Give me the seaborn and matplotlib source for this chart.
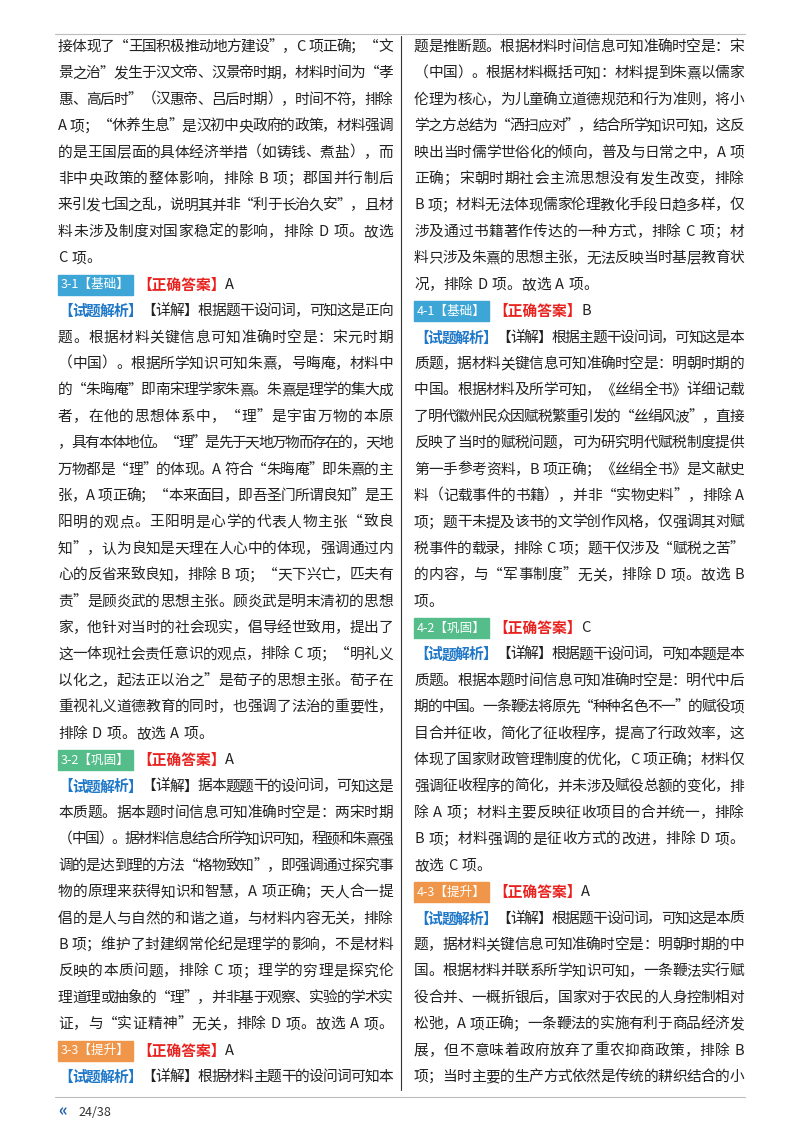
import matplotlib
matplotlib.use('Agg')
import matplotlib.pyplot as plt
import seaborn as sns
from matplotlib.patches import Rectangle

sns.set_theme(style='white')
plt.rcParams['font.family'] = ['Noto Sans CJK SC', 'DejaVu Sans']

W, H = 800, 1132
FS = 10.6

# 每列文字（以 "#" 开头的是题号行：题号|等级|答案；以 "@" 开头的是解析首行）
left_lines = [
    "接体现了“王国积极推动地方建设”，C 项正确；“文",
    "景之治”发生于汉文帝、汉景帝时期，材料时间为“孝",
    "惠、高后时”（汉惠帝、吕后时期），时间不符，排除",
    "A 项；“休养生息”是汉初中央政府的政策，材料强调",
    "的是王国层面的具体经济举措（如铸钱、煮盐），而",
    "非中央政策的整体影响，排除 B 项；郡国并行制后",
    "来引发七国之乱，说明其并非“利于长治久安”，且材",
    "料未涉及制度对国家稳定的影响，排除 D 项。故选",
    "C 项。",
    "#3-1|基础|A",
    "@【详解】根据题干设问词，可知这是正向",
    "题。根据材料关键信息可知准确时空是：宋元时期",
    "（中国）。根据所学知识可知朱熹，号晦庵，材料中",
    "的“朱晦庵”即南宋理学家朱熹。朱熹是理学的集大成",
    "者，在他的思想体系中，“理”是宇宙万物的本原",
    "，具有本体地位。“理”是先于天地万物而存在的，天地",
    "万物都是“理”的体现。A 符合“朱晦庵”即朱熹的主",
    "张，A 项正确；“本来面目，即吾圣门所谓良知”是王",
    "阳明的观点。王阳明是心学的代表人物主张“致良",
    "知”，认为良知是天理在人心中的体现，强调通过内",
    "心的反省来致良知，排除 B 项；“天下兴亡，匹夫有",
    "责”是顾炎武的思想主张。顾炎武是明末清初的思想",
    "家，他针对当时的社会现实，倡导经世致用，提出了",
    "这一体现社会责任意识的观点，排除 C 项；“明礼义",
    "以化之，起法正以治之”是荀子的思想主张。荀子在",
    "重视礼义道德教育的同时，也强调了法治的重要性，",
    "排除 D 项。故选 A 项。",
    "#3-2|巩固|A",
    "@【详解】据本题题干的设问词，可知这是",
    "本质题。据本题时间信息可知准确时空是：两宋时期",
    "（中国）。据材料信息结合所学知识可知，程颐和朱熹强",
    "调的是达到理的方法“格物致知”，即强调通过探究事",
    "物的原理来获得知识和智慧，A 项正确；天人合一提",
    "倡的是人与自然的和谐之道，与材料内容无关，排除",
    "B 项；维护了封建纲常伦纪是理学的影响，不是材料",
    "反映的本质问题，排除 C 项；理学的穷理是探究伦",
    "理道理或抽象的“理”，并非基于观察、实验的学术实",
    "证，与“实证精神”无关，排除 D 项。故选 A 项。",
    "#3-3|提升|A",
    "@【详解】根据材料主题干的设问词可知本",
]

right_lines = [
    "题是推断题。根据材料时间信息可知准确时空是：宋",
    "（中国）。根据材料概括可知：材料提到朱熹以儒家",
    "伦理为核心，为儿童确立道德规范和行为准则，将小",
    "学之方总结为“洒扫应对”，结合所学知识可知，这反",
    "映出当时儒学世俗化的倾向，普及与日常之中，A 项",
    "正确；宋朝时期社会主流思想没有发生改变，排除",
    "B 项；材料无法体现儒家伦理教化手段日趋多样，仅",
    "涉及通过书籍著作传达的一种方式，排除 C 项；材",
    "料只涉及朱熹的思想主张，无法反映当时基层教育状",
    "况，排除 D 项。故选 A 项。",
    "#4-1|基础|B",
    "@【详解】根据主题干设问词，可知这是本",
    "质题，据材料关键信息可知准确时空是：明朝时期的",
    "中国。根据材料及所学可知，《丝绢全书》详细记载",
    "了明代徽州民众因赋税繁重引发的“丝绢风波”，直接",
    "反映了当时的赋税问题，可为研究明代赋税制度提供",
    "第一手参考资料，B 项正确；《丝绢全书》是文献史",
    "料（记载事件的书籍），并非“实物史料”，排除 A",
    "项；题干未提及该书的文学创作风格，仅强调其对赋",
    "税事件的载录，排除 C 项；题干仅涉及“赋税之苦”",
    "的内容，与“军事制度”无关，排除 D 项。故选 B",
    "项。",
    "#4-2|巩固|C",
    "@【详解】根据题干设问词，可知本题是本",
    "质题。根据本题时间信息可知准确时空是：明代中后",
    "期的中国。一条鞭法将原先“种种名色不一”的赋役项",
    "目合并征收，简化了征收程序，提高了行政效率，这",
    "体现了国家财政管理制度的优化，C 项正确；材料仅",
    "强调征收程序的简化，并未涉及赋役总额的变化，排",
    "除 A 项；材料主要反映征收项目的合并统一，排除",
    "B 项；材料强调的是征收方式的改进，排除 D 项。",
    "故选 C 项。",
    "#4-3|提升|A",
    "@【详解】根据题干设问词，可知这是本质",
    "题，据材料关键信息可知准确时空是：明朝时期的中",
    "国。根据材料并联系所学知识可知，一条鞭法实行赋",
    "役合并、一概折银后，国家对于农民的人身控制相对",
    "松弛，A 项正确；一条鞭法的实施有利于商品经济发",
    "展，但不意味着政府放弃了重农抑商政策，排除 B",
    "项；当时主要的生产方式依然是传统的耕织结合的小",
]

level_colors = {'基础': '#3ea6d6', '巩固': '#55bd8a', '提升': '#f0964a'}
page_label = '24/38'

fig = plt.figure(figsize=(W / 100, H / 100), dpi=100)
ax = fig.add_axes([0, 0, 1, 1])
ax.set_xlim(0, W)
ax.set_ylim(H, 0)
ax.axis('off')
fig.canvas.draw()
renderer = fig.canvas.get_renderer()

_wcache = {}


def char_w(c, bold):
    key = (c, bold)
    if key not in _wcache:
        if c == ' ':
            _wcache[key] = FS * 100 / 72 * 0.3
        else:
            t = ax.text(0, 0, c, fontsize=FS, fontweight='bold' if bold else 'normal')
            _wcache[key] = t.get_window_extent(renderer).width
            t.remove()
    return _wcache[key]


def put_justified(x0, y, segs, col_w):
    # segs: list of (text, color, bold); 按字符排布并两端对齐
    chars = [(c, col, b) for s, col, b in segs for c in s]
    widths = [char_w(c, b) for c, col, b in chars]
    natural = sum(widths)
    gap = 0.0
    if natural > 0.8 * col_w and len(chars) > 1:
        gap = (col_w - natural) / (len(chars) - 1)
    x = x0
    for (c, col, b), w in zip(chars, widths):
        if c != ' ':
            ax.text(x, y, c, fontsize=FS, va='center', ha='left', color=col,
                    fontweight='bold' if b else 'normal')
        x += w + gap


def draw_column(lines, x0, y0, step, col_w):
    for i, line in enumerate(lines):
        y = y0 + i * step
        if line.startswith('#'):
            num, level, ans = line[1:].split('|')
            label = f'{num}【{level}】'
            t = ax.text(x0 + 3, y, label, fontsize=FS - 1.5, va='center',
                        ha='left', color='white')
            bw = t.get_window_extent(renderer).width
            ax.add_patch(Rectangle((x0, y - 10), bw + 6, 20,
                                   color=level_colors[level], zorder=0))
            x = x0 + bw + 10
            t2 = ax.text(x, y, '【正确答案】', fontsize=FS, va='center', ha='left',
                         color='#e8231f', fontweight='bold')
            x += t2.get_window_extent(renderer).width
            ax.text(x, y, ans, fontsize=FS, va='center', ha='left', color='#222222')
        elif line.startswith('@'):
            put_justified(x0, y, [('【试题解析】', '#1f78c8', True),
                                  (line[1:], '#222222', False)], col_w)
        else:
            put_justified(x0, y, [(line, '#222222', False)], col_w)


step = (1077 - 47) / 39
draw_column(left_lines, 58, 47, step, 335)
draw_column(right_lines, 414, 47, step, 330)

ax.plot([55, 745], [34, 34], color='#bbbbbb', lw=0.8)
ax.plot([55, 745], [1097, 1097], color='#bbbbbb', lw=0.8)
ax.plot([401, 401], [36, 1090], color='#333333', lw=0.8)
ax.text(58, 1111, '«', fontsize=12, va='center', color='#1f5fa8', fontweight='bold')
ax.text(78, 1112, page_label, fontsize=9, va='center', color='#333333')

fig.savefig('out.png', dpi=100)
